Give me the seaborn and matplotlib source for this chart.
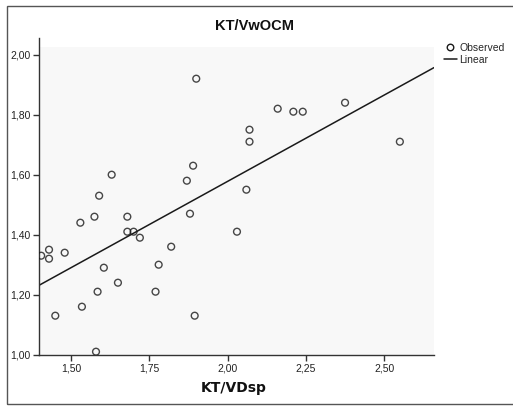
import numpy as np
import pandas as pd
import matplotlib
matplotlib.use("Agg")
import matplotlib.pyplot as plt
from matplotlib.lines import Line2D
from matplotlib.patches import Rectangle
from matplotlib.ticker import FuncFormatter
import seaborn as sns

# ---- data ----
kt_vdsp = [1.90, 2.07, 2.07, 1.89, 1.87, 2.06, 1.63, 1.59,
           2.16, 2.21, 2.24, 2.375, 2.55,
           1.53, 1.575, 1.68, 1.68, 1.70, 1.72, 1.88, 1.82, 1.78, 2.03,
           1.405, 1.43, 1.43, 1.48, 1.605, 1.65, 1.585, 1.77, 1.535,
           1.45, 1.895, 1.58]
kt_vwocm = [1.92, 1.75, 1.71, 1.63, 1.58, 1.55, 1.60, 1.53,
            1.82, 1.81, 1.81, 1.84, 1.71,
            1.44, 1.46, 1.46, 1.41, 1.41, 1.39, 1.47, 1.36, 1.30, 1.41,
            1.33, 1.35, 1.32, 1.34, 1.29, 1.24, 1.21, 1.21, 1.16,
            1.13, 1.13, 1.01]
x_ticks = [1.50, 1.75, 2.00, 2.25, 2.50]
y_ticks = [1.00, 1.20, 1.40, 1.60, 1.80, 2.00]
title = "KT/VwOCM"
x_label = "KT/VDsp"
legend_labels = ["Observed", "Linear"]

df = pd.DataFrame({"x": kt_vdsp, "y": kt_vwocm})

sns.set_style("white")
plt.rcParams["font.family"] = ["Liberation Sans", "DejaVu Sans"]

W, H = 513, 407
fig = plt.figure(figsize=(W / 100, H / 100), dpi=100)

# axes: spine top a bit above the shaded plot area
ax_left, ax_right = 39, 434
ax_top, ax_bottom = 38, 354.7
shade_top = 47
ax = fig.add_axes([ax_left / W, 1 - ax_bottom / H,
                   (ax_right - ax_left) / W, (ax_bottom - ax_top) / H])
ax.set_facecolor("white")

xmin, xmax = 1.398, 2.659
ymin = 1.0
per_px = 1.0 / 300.0
ymax = ymin + (ax_bottom - ax_top) * per_px
shade_ymax = ymin + (ax_bottom - shade_top) * per_px
ax.set_xlim(xmin, xmax)
ax.set_ylim(ymin, ymax)
ax.add_patch(Rectangle((xmin, ymin), xmax - xmin, shade_ymax - ymin,
                       facecolor="#f8f8f8", edgecolor="none", zorder=0))

sns.regplot(data=df, x="x", y="y", ax=ax, ci=None, truncate=False,
            scatter_kws=dict(s=24, facecolors="none", edgecolors="#1a1a1a",
                             linewidths=1.0, zorder=3),
            line_kws=dict(color="#1a1a1a", lw=1.1, zorder=2))
ax.set_xlim(xmin, xmax)
ax.set_ylim(ymin, ymax)

for s in ["top", "right"]:
    ax.spines[s].set_visible(False)
for s in ["left", "bottom"]:
    ax.spines[s].set_color("#333333")
    ax.spines[s].set_linewidth(1.0)

ax.set_xticks(x_ticks)
ax.set_yticks(y_ticks)
fmt = FuncFormatter(lambda v, p: f"{v:.2f}".replace(".", ","))
ax.xaxis.set_major_formatter(fmt)
ax.yaxis.set_major_formatter(fmt)
ax.tick_params(axis="both", direction="out", length=4, width=1,
               color="#333333", labelsize=7.5, labelcolor="#222222", pad=2,
               bottom=True, left=True)
ax.set_xlabel("")
ax.set_ylabel("")

fig.text(255 / W, 1 - 26 / H, title, ha="center", va="center",
         fontsize=10.5, fontweight="bold", color="#111111")
fig.text(234 / W, 1 - 388 / H, x_label, ha="center", va="center",
         fontsize=10, fontweight="bold", color="#111111",
         family=["DejaVu Sans"])

handles = [Line2D([], [], ls="none", marker="o", markersize=4.7,
                  markerfacecolor="none", markeredgecolor="#1a1a1a",
                  markeredgewidth=1.0),
           Line2D([], [], color="#1a1a1a", lw=1.1)]
fig.legend(handles, legend_labels, loc="upper left",
           bbox_to_anchor=(444 / W, 1 - 43 / H), frameon=False,
           fontsize=7.5, handlelength=1.2, handletextpad=0.3,
           labelspacing=0.15, borderpad=0, borderaxespad=0)

fig.patches.append(Rectangle((7 / W, 1 - 404 / H), 2.0, (404 - 6) / H,
                             transform=fig.transFigure, fill=False,
                             edgecolor="#555555", lw=1.0))

fig.savefig("out.png", dpi=100)
